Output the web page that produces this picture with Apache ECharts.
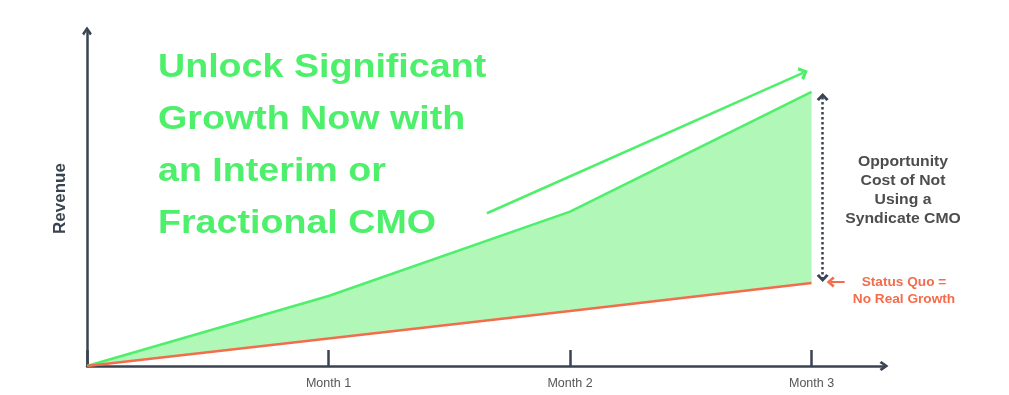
<!DOCTYPE html>
<html>
<head>
<meta charset="utf-8">
<script src="https://cdn.jsdelivr.net/npm/echarts@6/dist/echarts.min.js"></script>
<style>
html,body{margin:0;padding:0;background:#fff;}
#chart{width:1009px;height:395px;}
</style>
</head>
<body>
<div id="chart"></div>
<script>
// ---- data ----
const months = [0, 1, 2, 3];
const tickLabels = ['', 'Month 1', 'Month 2', 'Month 3'];
const withCMO = [0, 20.9, 46.1, 81.8];      // green growth line
const statusQuo = [0, 8.2, 16.4, 24.8];     // orange status quo line
const growthArrow = [[1.656, 45.6], [2.967, 87.6]];
const gapArrow = [[3.046, 80.3], [3.046, 26.3]];
const quoArrow = [[3.137, 25.1], [3.079, 25.1]];
const titleLines = ['Unlock Significant', 'Growth Now with', 'an Interim or', 'Fractional CMO'];
const gapLines = ['Opportunity', 'Cost of Not', 'Using a', 'Syndicate CMO'];
const quoLines = ['Status Quo =', 'No Real Growth'];

const AXIS = '#3a4450';
const GREEN = '#4def6b';
const FILL = '#b0f7b8';
const ORANGE = '#f36c4c';
const FONT = '"Liberation Sans", Arial, Helvetica, sans-serif';
const chevron = 'path://M0,72 L50,0 L100,72 L80,92 L50,42 L20,92 Z';

const pts = arr => months.map((m, i) => [m, arr[i]]);

const chart = echarts.init(document.getElementById('chart'), null, {renderer: 'canvas'});
chart.setOption({
  animation: false,
  backgroundColor: '#fff',
  textStyle: {fontFamily: FONT},
  grid: {left: 87, right: 125, top: 31, bottom: 29, containLabel: false},
  xAxis: {
    type: 'value', min: 0, max: 3.30, interval: 1,
    axisLine: {lineStyle: {color: AXIS, width: 2.5}, symbol: ['none', chevron], symbolSize: [13, 9]},
    axisTick: {show: true, inside: true, length: 16, lineStyle: {color: AXIS, width: 2.5}},
    axisLabel: {color: '#555', fontSize: 12.5, margin: 11, fontFamily: FONT,
      showMaxLabel: false, formatter: v => tickLabels[v] || ''},
    splitLine: {show: false}
  },
  yAxis: {
    type: 'value', min: 0, max: 100,
    name: 'Revenue', nameLocation: 'middle', nameGap: 18, nameRotate: 90,
    nameTextStyle: {color: AXIS, fontSize: 17, fontWeight: 'bold', fontFamily: FONT},
    axisLine: {show: true, lineStyle: {color: AXIS, width: 2.5}, symbol: ['none', chevron], symbolSize: [13, 9]},
    axisTick: {show: false}, axisLabel: {show: false}, splitLine: {show: false}
  },
  series: [
    {type: 'custom', data: [0], silent: true, z: 1,
     renderItem: function (params, api) {
       const top = months.map((m, i) => api.coord([m, withCMO[i]]));
       const bottom = months.map((m, i) => api.coord([m, statusQuo[i]])).reverse();
       return {type: 'polygon', shape: {points: top.concat(bottom)}, style: {fill: FILL}};
     }},
    {type: 'line', data: pts(withCMO), symbol: 'none', lineStyle: {color: GREEN, width: 2.5}, z: 3,
     markLine: {silent: true, symbol: ['none', chevron], symbolSize: [14, 9],
       label: {show: false}, lineStyle: {color: GREEN, width: 2.5, type: 'solid'},
       data: [[{coord: growthArrow[0]}, {coord: growthArrow[1]}]]}},
    {type: 'line', data: pts(statusQuo), symbol: 'none', lineStyle: {color: ORANGE, width: 2.5}, z: 3,
     markLine: {silent: true, symbol: ['none', chevron], symbolSize: [11, 8],
       label: {show: false}, lineStyle: {color: ORANGE, width: 2, type: 'solid'},
       data: [[{coord: quoArrow[0]}, {coord: quoArrow[1]}]]}},
    {type: 'line', data: [], symbol: 'none',
     markLine: {silent: true, symbol: [chevron, chevron], symbolSize: [12, 8],
       label: {show: false}, lineStyle: {color: AXIS, width: 2.5, type: 'dotted'},
       data: [[{coord: gapArrow[0]}, {coord: gapArrow[1]}]]}}
  ],
  graphic: [
    {type: 'text', x: 158, y: 42, scaleX: 1.14, style: {text: titleLines.join('\n'), fill: GREEN,
      font: 'bold 33px ' + FONT, lineHeight: 52}},
    {type: 'text', x: 903, y: 152, scaleX: 1.05, style: {text: gapLines.join('\n'), fill: '#4d4d4d',
      font: 'bold 15px ' + FONT, lineHeight: 19, align: 'center'}},
    {type: 'text', x: 904, y: 274, scaleX: 1.05, style: {text: quoLines.join('\n'), fill: ORANGE,
      font: 'bold 13px ' + FONT, lineHeight: 17, align: 'center'}}
  ]
});
</script>
</body>
</html>
